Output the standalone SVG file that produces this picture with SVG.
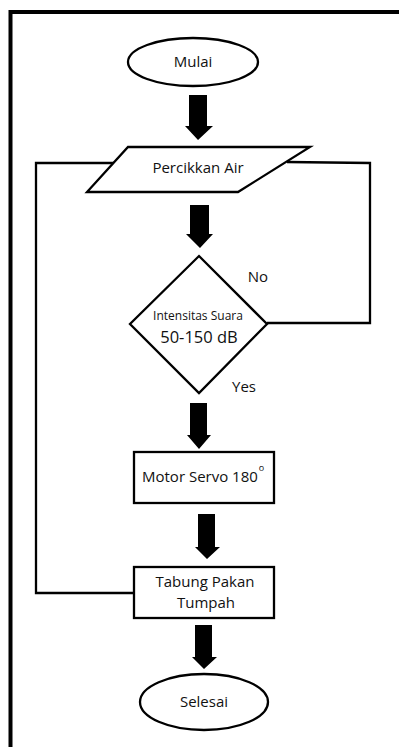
<svg xmlns="http://www.w3.org/2000/svg" width="399" height="747" viewBox="0 0 399 747">
<style>
.sh{fill:#fff;stroke:#000;stroke-width:2.3}
.ln{fill:none;stroke:#000;stroke-width:2.3}
.ar{fill:#000;stroke:none}
text{font-family:"Open Sans","Liberation Sans",sans-serif;fill:#111;text-anchor:middle}
.t{font-size:15px}
.s{font-size:12px}
.b{font-size:16.5px}
</style>
<rect width="399" height="747" fill="#fff"/>
<path d="M10.5 747 V12 H399" fill="none" stroke="#000" stroke-width="4"/>
<g id="connectors">
  <polyline class="ln" points="134,593 36,593 36,163 117,163"/>
  <polyline class="ln" points="287,162 370,163 370,323 267,323"/>
  <polygon class="ar" points="189,95 207,95 207,126 213,126 198,140 185,126 189,126"/>
  <polygon class="ar" points="190,205 209,205 209,234 213,234 200,248 186,234 190,234"/>
  <polygon class="ar" points="190,403 207,403 207,435 211,435 199,449 187,435 190,435"/>
  <polygon class="ar" points="198,514 215,514 215,547 220,547 207,559 195,547 198,547"/>
  <polygon class="ar" points="195,625 212,625 212,657 217,657 204,669 192,657 195,657"/>
  <text class="t" x="258" y="282">No</text>
  <text class="t" x="244" y="392">Yes</text>
</g>
<g id="mulai">
  <ellipse class="sh" cx="193" cy="62" rx="65" ry="24"/>
  <text class="t" x="193" y="67">Mulai</text>
</g>
<g id="percikkan">
  <polygon class="sh" points="128,147 310,147 238,192 87,192"/>
  <text class="t" x="198" y="173">Percikkan Air</text>
</g>
<g id="intensitas">
  <polygon class="sh" points="199,256 267,324 199,393 130,324"/>
  <text class="s" x="198" y="320">Intensitas Suara</text>
  <text class="b" x="199" y="343">50-150 dB</text>
</g>
<g id="motor">
  <rect class="sh" x="134" y="452" width="140" height="51"/>
  <text class="t" x="142" y="482" style="text-anchor:start">Motor Servo 180<tspan style="font-size:9px" dx="1" dy="-11">o</tspan></text>
</g>
<g id="tabung">
  <rect class="sh" x="134" y="567" width="140" height="51"/>
  <text class="t" x="205" y="587">Tabung Pakan</text>
  <text class="t" x="206" y="608">Tumpah</text>
</g>
<g id="selesai">
  <ellipse class="sh" cx="204" cy="702" rx="64" ry="28"/>
  <text class="t" x="204" y="707">Selesai</text>
</g>
</svg>
